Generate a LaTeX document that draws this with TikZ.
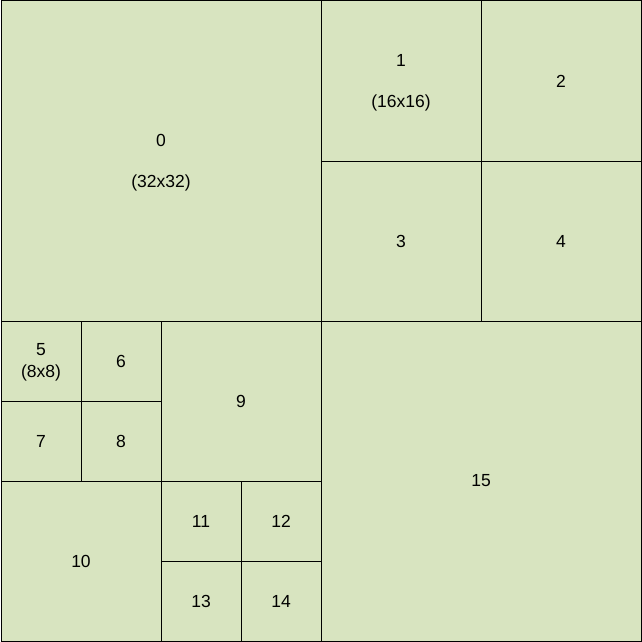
\documentclass[tikz,border=0pt]{standalone}
\usepackage{fontspec}
\setmainfont{Liberation Sans}
\definecolor{cellfill}{HTML}{D8E4C0}
\begin{document}
\begin{tikzpicture}[x=1pt,y=-1pt,
  cell/.style={draw=black,fill=cellfill,line width=1pt},
  lbl/.style={font=\fontsize{17.5}{17.5}\selectfont,inner sep=0pt}]
\useasboundingbox (0,0) rectangle (642,642);
\draw[cell] (1,1) rectangle (321,321);
\draw[cell] (321,1) rectangle (481,161);
\draw[cell] (481,1) rectangle (641,161);
\draw[cell] (321,161) rectangle (481,321);
\draw[cell] (481,161) rectangle (641,321);
\draw[cell] (1,321) rectangle (81,401);
\draw[cell] (81,321) rectangle (161,401);
\draw[cell] (1,401) rectangle (81,481);
\draw[cell] (81,401) rectangle (161,481);
\draw[cell] (161,321) rectangle (321,481);
\draw[cell] (1,481) rectangle (161,641);
\draw[cell] (161,481) rectangle (241,561);
\draw[cell] (241,481) rectangle (321,561);
\draw[cell] (161,561) rectangle (241,641);
\draw[cell] (241,561) rectangle (321,641);
\draw[cell] (321,321) rectangle (641,641);
\node[lbl] (l0) at (161,140) {0};
\node[lbl] (s0) at (161,183) {(32x32)};
\node[lbl] (l1) at (401,60) {1};
\node[lbl] (s1) at (401,103) {(16x16)};
\node[lbl] (l2) at (561,81) {2};
\node[lbl] (l3) at (401,241) {3};
\node[lbl] (l4) at (561,241) {4};
\node[lbl] (l5) at (41,350) {5};
\node[lbl] (s5) at (41,373) {(8x8)};
\node[lbl] (l6) at (121,361) {6};
\node[lbl] (l7) at (41,441) {7};
\node[lbl] (l8) at (121,441) {8};
\node[lbl] (l9) at (241,401) {9};
\node[lbl] (l10) at (81,561) {10};
\node[lbl] (l11) at (201,521) {11};
\node[lbl] (l12) at (281,521) {12};
\node[lbl] (l13) at (201,601) {13};
\node[lbl] (l14) at (281,601) {14};
\node[lbl] (l15) at (481,481) {15};
\end{tikzpicture}
\end{document}
